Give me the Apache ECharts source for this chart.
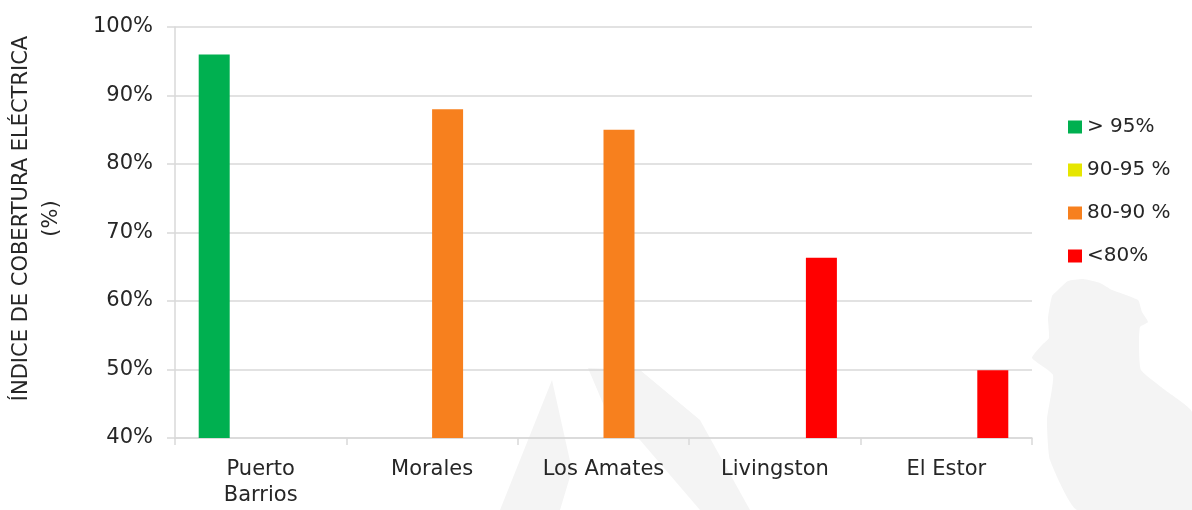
<!DOCTYPE html>
<html>
<head>
<meta charset="utf-8">
<script src="https://cdn.jsdelivr.net/npm/echarts@6/dist/echarts.min.js"></script>
<style>
html,body{margin:0;padding:0;background:#fff;}
#chart{width:1192px;height:510px;}
</style>
</head>
<body>
<div id="chart"></div>
<script>
const categories = ['Puerto\nBarrios', 'Morales', 'Los Amates', 'Livingston', 'El Estor'];
const seriesNames = ['> 95%', '90-95 %', '80-90 %', '<80%'];
const seriesColors = ['#00B050', '#E6E600', '#F7801E', '#FF0000'];
const above95 = [96.0, null, null, null, null];
const from90to95 = [null, null, null, null, null];
const from80to90 = [null, 88.0, 85.0, null, null];
const below80 = [null, null, null, 66.3, 49.9];
const yTicks = [40, 50, 60, 70, 80, 90, 100];

const seriesValues = [above95, from90to95, from80to90, below80];
const FONT = 'DejaVu Sans';
const chart = echarts.init(document.getElementById('chart'));

const watermark = '#F4F4F4';
chart.setOption({
  animation: false,
  textStyle: { fontFamily: FONT },
  graphic: [
    { type: 'polygon', z: -10, silent: true, shape: { smooth: 0.15, points: [
      [1048,318],[1052,296],[1058,290],[1068,281],[1083,279],[1100,283],[1112,290],[1138,300],
      [1142,312],[1148,322],[1140,327],[1139,345],[1141,370],[1165,390],[1192,412],
      [1192,510],[1077,510],[1050,460],[1047,420],[1053,375],[1032,358],[1042,345],[1049,338]
    ]}, style: { fill: watermark } },
    { type: 'polygon', z: -10, silent: true, shape: { points: [
      [500,510],[552,380],[572,470],[560,510]
    ]}, style: { fill: watermark } },
    { type: 'polygon', z: -10, silent: true, shape: { points: [
      [588,368],[640,370],[700,420],[750,510],[700,510],[640,440],[610,420]
    ]}, style: { fill: watermark } }
  ],
  grid: { left: 175, right: 160, top: 27, bottom: 72, containLabel: false, outerBoundsMode: 'none' },
  legend: {
    orient: 'vertical',
    left: 1063,
    top: 112,
    itemWidth: 14,
    itemHeight: 13,
    itemGap: 23,
    icon: 'rect',
    textStyle: { fontFamily: FONT, fontSize: 20, color: '#262626' },
    data: seriesNames
  },
  xAxis: {
    type: 'category',
    data: categories,
    axisLine: { show: true, lineStyle: { color: '#D9D9D9', width: 1.5 } },
    axisTick: { show: true, length: 7, lineStyle: { color: '#D9D9D9', width: 1.5 } },
    axisLabel: { fontFamily: FONT, fontSize: 21, color: '#262626', margin: 19, lineHeight: 26, interval: 0 },
    splitLine: { show: false }
  },
  yAxis: {
    type: 'value',
    min: 40,
    max: 100,
    interval: 10,
    name: 'ÍNDICE DE COBERTURA ELÉCTRICA\n(%)',
    nameLocation: 'middle',
    nameRotate: 90,
    nameGap: 108,
    nameTextStyle: { fontFamily: FONT, fontSize: 21, color: '#262626', lineHeight: 30, padding: [0,0,0,28] },
    axisLine: { show: true, lineStyle: { color: '#D9D9D9', width: 1.5 } },
    axisTick: { show: true, length: 8, lineStyle: { color: '#D9D9D9', width: 1.5 } },
    axisLabel: {
      fontFamily: FONT, fontSize: 21, color: '#262626', margin: 22,
      formatter: v => yTicks.includes(v) ? v + '%' : ''
    },
    splitLine: { show: true, lineStyle: { color: '#D9D9D9', width: 1.5 } }
  },
  series: seriesNames.map((name, i) => ({
    name,
    type: 'bar',
    data: seriesValues[i],
    barWidth: 31,
    barGap: '0%',
    itemStyle: { color: seriesColors[i] }
  }))
});
</script>
</body>
</html>
